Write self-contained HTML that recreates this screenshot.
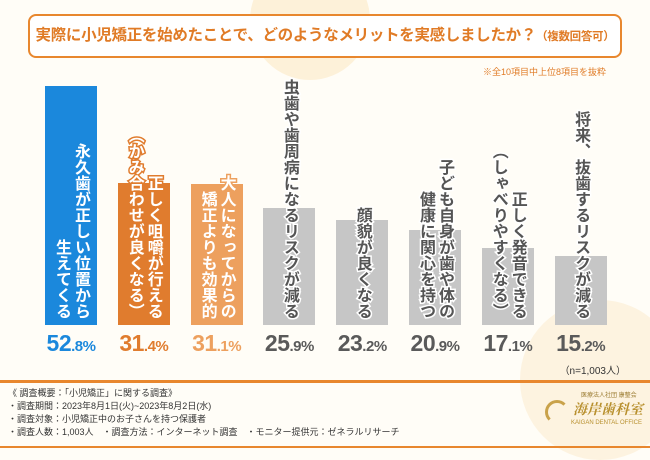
<!DOCTYPE html>
<html><head><meta charset="utf-8"><style>
body{margin:0;width:650px;height:450px;overflow:hidden;background:#fffdf7;font-family:"Liberation Sans","Noto Sans CJK JP",sans-serif;position:relative}
#title{position:absolute;left:28px;top:14px;width:590px;height:40px;border:2px solid #e8872e;border-radius:8px;background:#fff;color:#e07b26;font-weight:bold;font-size:15.5px;line-height:40px;text-align:center;letter-spacing:-0.3px}
#title small{font-size:11.5px}
.note{position:absolute;font-size:9px;color:#e07b26}
.bar{position:absolute}
.lbl{position:absolute;writing-mode:vertical-rl;font-size:16px;font-weight:bold;line-height:19px;text-align:end;height:240px;top:79px;transform:translateX(-50%);white-space:pre;paint-order:stroke fill;-webkit-text-stroke:3px #fff}
.val{position:absolute;top:330px;font-weight:bold;font-size:23px;transform:translateX(-50%);white-space:nowrap;letter-spacing:-0.5px}
.val span{font-size:15px}
.foot{position:absolute;left:8px;font-size:9px;color:#333;white-space:nowrap}
</style></head><body>
<div id="bg" style="position:absolute;left:250px;top:-40px;width:120px;height:120px;border-radius:50%;background:#fdf1d9"></div>
<div id="bg2" style="position:absolute;left:520px;top:300px;width:160px;height:160px;border-radius:50%;background:#fdf3e0"></div>
<div id="title">実際に小児矯正を始めたことで、どのようなメリットを実感しましたか？<small>（複数回答可）</small></div>
<div class="note" style="right:44px;top:65px">※全10項目中上位8項目を抜粋</div>
<div class="note" style="right:24px;top:362px;color:#333;font-size:10px">（n=1,003人）</div>
<div id="chart"></div>
<div style="position:absolute;left:0;top:380px;width:650px;height:3px;background:#e8872e"></div>
<div style="position:absolute;left:0;top:446px;width:650px;height:2px;background:#e8872e"></div>
<div class="foot" style="top:386px">《 調査概要：「小児矯正」に関する調査》</div>
<div class="foot" style="top:399px">・調査期間：2023年8月1日(火)~2023年8月2日(水)</div>
<div class="foot" style="top:412px">・調査対象：小児矯正中のお子さんを持つ保護者</div>
<div class="foot" style="top:425px">・調査人数：1,003人　・調査方法：インターネット調査　・モニター提供元：ゼネラルリサーチ</div>
<div style="position:absolute;left:545px;top:390px;width:100px;height:50px;white-space:nowrap">
<div style="position:absolute;left:0;top:10px;width:18px;height:18px;border-radius:50%;border:3px solid #c9a24a;border-right-color:transparent;border-bottom-color:transparent"></div>
<div style="position:absolute;left:36px;top:0;font-size:6px;color:#9a7b30">医療法人社団 康整会</div>
<div style="position:absolute;left:28px;top:9px;font-size:14px;font-weight:bold;color:#b8902e;font-family:'Noto Serif CJK SC',serif;font-style:italic">海岸歯科室</div>
<div style="position:absolute;left:26px;top:30px;font-size:6px;color:#b8902e">KAIGAN DENTAL OFFICE</div>
</div>
<script>
const categories=["永久歯が正しい位置から\n生えてくる","正しく咀嚼が行える\n（かみ合わせが良くなる）","大人になってからの\n矯正よりも効果的","虫歯や歯周病になるリスクが減る","顔貌が良くなる","子ども自身が歯や体の\n健康に関心を持つ","正しく発音できる\n（しゃべりやすくなる）","将来、抜歯するリスクが減る"];
const values=[52.8,31.4,31.1,25.9,23.2,20.9,17.1,15.2];
const barColors=["#1b88dc","#e07c2e","#eda05e","#c6c6c6","#c6c6c6","#c6c6c6","#c6c6c6","#c6c6c6"];
const textColors=["#1b88dc","#e07c2e","#eda05e","#5a5a5a","#5a5a5a","#5a5a5a","#5a5a5a","#5a5a5a"];
const baseY=325,scale=4.53,x0=45,step=72.8,bw=52;
const y=v=>baseY-v*scale;
const chart=document.getElementById('chart');
values.forEach((v,i)=>{
  const b=document.createElement('div');b.className='bar';
  
  
  const x=x0+i*step;
  b.style.cssText=`left:${x}px;top:${y(v)}px;width:${bw}px;height:${baseY-y(v)}px;background:${barColors[i]}`;
  chart.appendChild(b);
  const l=document.createElement('div');l.className='lbl';
  
  
  l.textContent=categories[i];
  const light=i<3;
  l.style.left=(x+bw/2)+'px';
  l.style.color=light?'#fff':'#555';
  l.style.webkitTextStroke=light?'3px '+barColors[i]:'3px #fff';
  chart.appendChild(l);
  const t=document.createElement('div');t.className='val';
  
  
  const s=v.toFixed(1).split('.');
  t.innerHTML=s[0]+'<span>.'+s[1]+'%</span>';
  t.style.left=(x+bw/2)+'px';t.style.color=textColors[i];
  chart.appendChild(t);
});
</script>
</body></html>
